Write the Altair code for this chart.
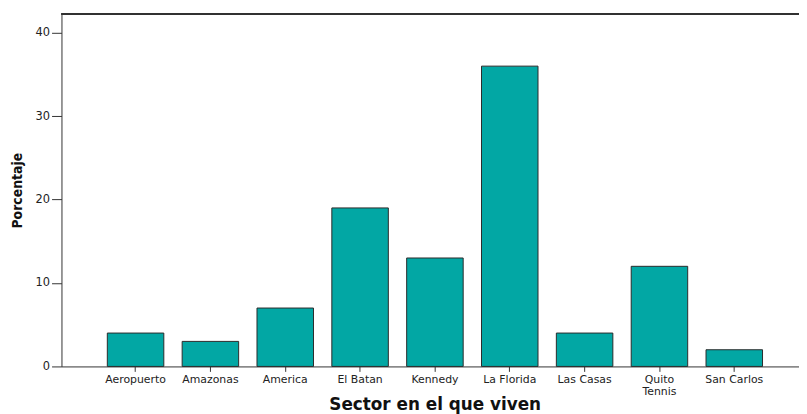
import altair as alt
import pandas as pd

sectors = ["Aeropuerto", "Amazonas", "America", "El Batan", "Kennedy",
           "La Florida", "Las Casas", "Quito Tennis", "San Carlos"]
values = [4, 3, 7, 19, 13, 36, 4, 12, 2]
y_ticks = [0, 10, 20, 30, 40]

df = pd.DataFrame({"sector": sectors, "pct": values})

W = 745
H = 356

bars = alt.Chart(df).mark_bar(
    fill="#02A7A4", stroke="#2b2b2b", strokeWidth=1
).encode(
    x=alt.X(
        "sector:N",
        sort=sectors,
        scale=alt.Scale(paddingInner=0.245, paddingOuter=0.55, align=0.557),
        axis=alt.Axis(
            title="Sector en el que viven",
            titleFont="DejaVu Sans",
            titleFontWeight="bold",
            titleFontSize=17,
            titleColor="#111",
            titleX=377,
            titleY=44,
            titleBaseline="alphabetic",
            labelAngle=0,
            labelFont="DejaVu Sans",
            labelFontSize=11,
            labelColor="#222",
            labelPadding=2,
            labelLineHeight=12,
            labelOverlap=False,
            labelLimit=200,
            labelExpr="datum.label == 'Quito Tennis' ? ['Quito', 'Tennis'] : datum.label",
            tickSize=5,
            tickColor="#333",
            domainColor="#333",
            domainWidth=1,
        ),
    ),
    y=alt.Y(
        "pct:Q",
        scale=alt.Scale(domain=[0, 42.25], nice=False, zero=True),
        axis=alt.Axis(
            values=y_ticks,
            grid=False,
            title="Porcentaje",
            titleFont="DejaVu Sans Condensed, Liberation Sans, sans-serif",
            titleFontWeight="bold",
            titleFontSize=14,
            titleColor="#111",
            titleAngle=270,
            titleX=-44,
            titleY=H / 2,
            titleAlign="center",
            titleBaseline="middle",
            labelFont="DejaVu Sans",
            labelFontSize=11.5,
            labelColor="#222",
            labelPadding=2,
            tickSize=10,
            tickColor="#333",
            domainColor="#333",
            domainWidth=1,
        ),
    ),
)

top_line = alt.Chart(df).mark_rule(color="#333", strokeWidth=1).encode(
    x=alt.value(0), x2=alt.value(W), y=alt.value(0)
)

chart = alt.layer(bars, top_line).properties(
    width=W,
    height=H,
    autosize=alt.AutoSizeParams(type="none"),
    padding={"left": 54, "top": 4, "right": 0, "bottom": 46},
).configure_view(stroke=None)

chart.save("out.html", embed_options={"renderer": "svg", "actions": False})
